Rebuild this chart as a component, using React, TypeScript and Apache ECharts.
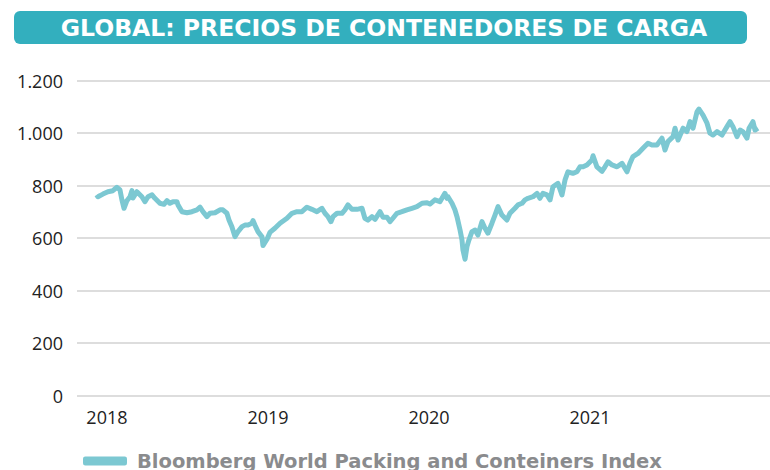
import React, { useEffect, useRef } from "react";
import * as echarts from "echarts";

const TITLE = "GLOBAL: PRECIOS DE CONTENEDORES DE CARGA";
const SERIES_NAME = "Bloomberg World Packing and Conteiners Index";
const YEAR_LABELS = [2018, 2019, 2020, 2021];

// time in decimal years
const years = [
  2017.936, 2017.944, 2017.975, 2018.006, 2018.037, 2018.062, 2018.081, 2018.093, 2018.106, 2018.124,
  2018.143, 2018.155, 2018.161, 2018.186, 2018.217, 2018.236, 2018.255, 2018.28, 2018.298, 2018.329,
  2018.354, 2018.373, 2018.391, 2018.41, 2018.435, 2018.441, 2018.466, 2018.497, 2018.528, 2018.559,
  2018.578, 2018.596, 2018.621, 2018.64, 2018.671, 2018.702, 2018.72, 2018.745, 2018.758, 2018.776,
  2018.795, 2018.814, 2018.839, 2018.857, 2018.876, 2018.901, 2018.907, 2018.919, 2018.938, 2018.963,
  2018.969, 2018.994, 2019.012, 2019.043, 2019.075, 2019.118, 2019.149, 2019.18, 2019.211, 2019.242,
  2019.273, 2019.304, 2019.335, 2019.354, 2019.373, 2019.391, 2019.404, 2019.429, 2019.46, 2019.478,
  2019.497, 2019.522, 2019.553, 2019.584, 2019.602, 2019.621, 2019.646, 2019.665, 2019.696, 2019.714,
  2019.739, 2019.758, 2019.776, 2019.801, 2019.832, 2019.863, 2019.894, 2019.925, 2019.957, 2019.988,
  2020.006, 2020.037, 2020.068, 2020.099, 2020.112, 2020.118, 2020.143, 2020.161, 2020.174, 2020.193,
  2020.205, 2020.211, 2020.224, 2020.236, 2020.248, 2020.267, 2020.286, 2020.304, 2020.329, 2020.348,
  2020.366, 2020.391, 2020.41, 2020.429, 2020.453, 2020.484, 2020.503, 2020.534, 2020.553, 2020.578,
  2020.596, 2020.615, 2020.646, 2020.671, 2020.689, 2020.708, 2020.733, 2020.752, 2020.77, 2020.801,
  2020.826, 2020.845, 2020.863, 2020.894, 2020.919, 2020.938, 2020.957, 2020.981, 2021.012, 2021.019,
  2021.043, 2021.075, 2021.093, 2021.112, 2021.137, 2021.168, 2021.199, 2021.23, 2021.248, 2021.267,
  2021.298, 2021.329, 2021.36, 2021.385, 2021.416, 2021.447, 2021.466, 2021.484, 2021.516, 2021.528,
  2021.547, 2021.578, 2021.602, 2021.621, 2021.64, 2021.665, 2021.677, 2021.702, 2021.727, 2021.745,
  2021.764, 2021.789, 2021.82, 2021.851, 2021.87, 2021.888, 2021.913, 2021.932, 2021.95, 2021.975,
  2021.988, 2022.012, 2022.025, 2022.043,
];

const values = [
  765, 758, 768, 777, 781, 794, 784, 746, 714, 743,
  758, 781, 753, 777, 758, 739, 758, 765, 752, 733,
  729, 743, 733, 739, 739, 727, 701, 697, 701, 708,
  718, 701, 682, 695, 697, 708, 708, 695, 669, 644,
  606, 625, 644, 650, 650, 657, 667, 650, 625, 605,
  572, 596, 622, 638, 657, 676, 695, 701, 701, 718,
  710, 701, 714, 695, 682, 663, 682, 695, 695, 708,
  727, 710, 710, 714, 676, 669, 682, 672, 701, 680,
  680, 663, 676, 695, 701, 708, 714, 720, 733, 735,
  730, 746, 739, 771, 752, 758, 733, 708, 682, 631,
  593, 555, 520, 568, 593, 625, 631, 612, 663, 638,
  619, 657, 688, 720, 688, 669, 695, 714, 727, 733,
  746, 752, 758, 771, 752, 771, 765, 746, 796, 809,
  765, 822, 853, 847, 853, 872, 872, 879, 898, 914,
  872, 855, 872, 891, 879, 872, 885, 853, 885, 911,
  923, 943, 962, 955, 955, 981, 936, 968, 987, 1019,
  974, 1019, 1006, 1044, 1019, 1082, 1092, 1069, 1038, 1000,
  993, 1006, 993, 1025, 1044, 1025, 987, 1012, 1006, 981,
  1019, 1044, 1012, 1019,
];

const FONT = "'Open Sans', 'Noto Sans', sans-serif";
const WIDE_FONT = "'DejaVu Sans', 'Open Sans', sans-serif";
const LINE_COLOR = "#7cc8d2";
const TITLE_BG = "#33afbe";

export default function App() {
  const ref = useRef<HTMLDivElement>(null);

  useEffect(() => {
    if (!ref.current) return;
    const chart = echarts.init(ref.current, null, { renderer: "svg" });
    const data = years.map((y, i) => [y, values[i]]);
    chart.setOption({
      animation: false,
      backgroundColor: "#ffffff",
      textStyle: { fontFamily: FONT },
      graphic: [
        {
          type: "rect",
          shape: { x: 14, y: 11, width: 733, height: 33, r: 6 },
          style: { fill: TITLE_BG },
        },
        {
          type: "text",
          x: 384,
          y: 28,
          style: {
            text: TITLE,
            fill: "#ffffff",
            font: `700 23.5px ${WIDE_FONT}`,
            textAlign: "center",
            textVerticalAlign: "middle",
          },
        },
      ],
      legend: {
        left: 78,
        top: 446,
        icon: "roundRect",
        itemWidth: 44,
        itemHeight: 9,
        textStyle: {
          color: "#8a8b8d",
          fontSize: 19.5,
          fontWeight: 700,
          fontFamily: WIDE_FONT,
          padding: [0, 0, 0, 5],
        },
        data: [SERIES_NAME],
      },
      grid: { left: 77, right: 0, top: 80.7, bottom: 74.3, containLabel: false },
      xAxis: {
        type: "value",
        min: 2017.814,
        max: 2022.118,
        axisLine: { show: false },
        axisTick: { show: false },
        splitLine: { show: false },
        axisLabel: {
          customValues: YEAR_LABELS,
          formatter: (v: number) => String(Math.round(v)),
          color: "#222",
          fontSize: 18,
          fontFamily: FONT,
          margin: 12,
        },
      },
      yAxis: {
        type: "value",
        min: 0,
        max: 1200,
        interval: 200,
        axisLine: { show: false },
        axisTick: { show: false },
        splitLine: { lineStyle: { color: "#d2d2d2", width: 1.5 } },
        axisLabel: {
          color: "#222",
          fontSize: 18,
          fontFamily: FONT,
          margin: 14,
          formatter: (v: number) => v.toString().replace(/\B(?=(\d{3})+(?!\d))/g, "."),
        },
      },
      series: [
        {
          name: SERIES_NAME,
          type: "line",
          data,
          showSymbol: false,
          symbol: "none",
          lineStyle: { color: LINE_COLOR, width: 5, join: "round" },
          itemStyle: { color: LINE_COLOR },
        },
      ],
    });
    return () => chart.dispose();
  }, []);

  return (
    <div
      ref={ref}
      style={{ position: "fixed", left: 0, top: 0, width: 770, height: 470, background: "#fff" }}
    />
  );
}
